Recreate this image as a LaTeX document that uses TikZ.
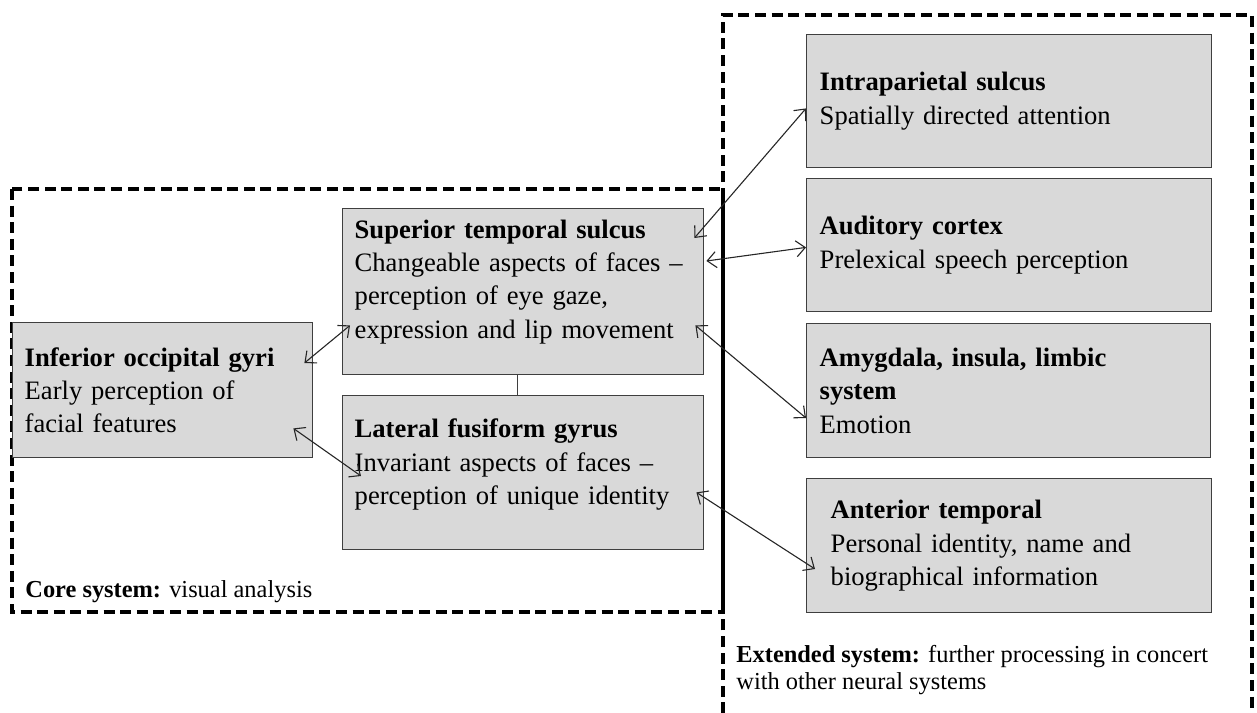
\documentclass[tikz,border=0pt]{standalone}
\usepackage{fontspec}
\setmainfont{Liberation Serif}
\usetikzlibrary{arrows.meta}
\definecolor{boxfill}{HTML}{D9D9D9}
\definecolor{boxline}{HTML}{3F3F3F}
\begin{document}
\begin{tikzpicture}[x=0.5pt,y=-0.5pt,
  region/.style={draw=boxline, line width=0.7pt, fill=boxfill, anchor=north west,
    align=left, inner xsep=6pt, inner ysep=0pt, font=\fontsize{13.3}{16.7}\selectfont},
  frame/.style={line width=1.7pt, dash pattern=on 5.5pt off 2.8pt},
  link/.style={draw=black!85, line width=0.55pt,
    {Straight Barb[length=4.5pt,width=8pt]}-{Straight Barb[length=4.5pt,width=8pt]}},
  plain/.style={draw=boxline, line width=0.6pt},
  caption/.style={anchor=base west, align=left, inner sep=0pt,
    font=\fontsize{12.2}{13.4}\selectfont}]
\useasboundingbox (0,0) rectangle (1257,712);
\clip (0,0) rectangle (1257,712);

% frames
\draw[frame] (12,189) rectangle (723,612);
\draw[frame] (723,730) -- (723,15) -- (1252,15) -- (1252,730);
\draw[line width=1.7pt] (723,189) -- (723,612);

% core boxes
\node[region, minimum width=150pt, minimum height=67.5pt, text width=138pt] (iog) at (12,322)
  {\textbf{Inferior occipital gyri}\\Early perception of\\facial features};
\node[region, minimum width=180.5pt, minimum height=83pt, text width=168.5pt] (sts) at (342,208)
  {\textbf{Superior temporal sulcus}\\Changeable aspects of faces --\\perception of eye gaze,\\expression and lip movement\\[-4pt]\mbox{}};
\node[region, minimum width=180.5pt, minimum height=77pt, text width=168.5pt] (lfg) at (342,395)
  {\textbf{Lateral fusiform gyrus}\\Invariant aspects of faces --\\perception of unique identity\\[-6pt]\mbox{}};

% extended boxes
\node[region, inner xsep=6.5pt, minimum width=202.5pt, minimum height=66.5pt, text width=189.5pt] (ip) at (806,34)
  {\textbf{Intraparietal sulcus}\\Spatially directed attention};
\node[region, inner xsep=6.5pt, minimum width=202.5pt, minimum height=66.5pt, text width=189.5pt] (aud) at (806,178)
  {\textbf{Auditory cortex}\\Prelexical speech perception};
\node[region, inner xsep=6.5pt, minimum width=202pt, minimum height=67pt, text width=189pt] (amy) at (806,323)
  {\textbf{Amygdala, insula, limbic}\\\textbf{system}\\Emotion};
\node[region, inner xsep=12pt, minimum width=202.5pt, minimum height=67pt, text width=178.5pt] (ant) at (806,478)
  {\textbf{Anterior temporal}\\Personal identity, name and\\biographical information};

% captions
\node[caption] (corelabel) at (25,597) {\textbf{Core system:} visual analysis};
\node[caption] (extlabel) at (736,689) {\textbf{Extended system:} further processing in concert\\with other neural systems};

% connectors
\draw[plain] ([xshift=-3pt]sts.south) -- ([xshift=-3pt]lfg.north);
\draw[link] ([xshift=-4.5pt,yshift=-20.5pt]iog.north east) -- ([xshift=4pt,yshift=25pt]sts.south west);
\draw[link] ([xshift=-10pt,yshift=15pt]iog.south east) -- ([xshift=9.5pt,yshift=-40.5pt]lfg.north west);
\draw[link] ([xshift=-5pt,yshift=-15pt]sts.north east) -- ([yshift=30pt]ip.south west);
\draw[link] ([xshift=1pt,yshift=-26.5pt]sts.north east) -- ([yshift=32.5pt]aud.south west);
\draw[link] ([xshift=-4.5pt,yshift=25pt]sts.south east) -- ([yshift=-47.5pt]amy.north west);
\draw[link] ([xshift=-4pt,yshift=29pt]lfg.south east) -- ([xshift=4.5pt,yshift=-45.5pt]ant.north west);
\end{tikzpicture}
\end{document}
